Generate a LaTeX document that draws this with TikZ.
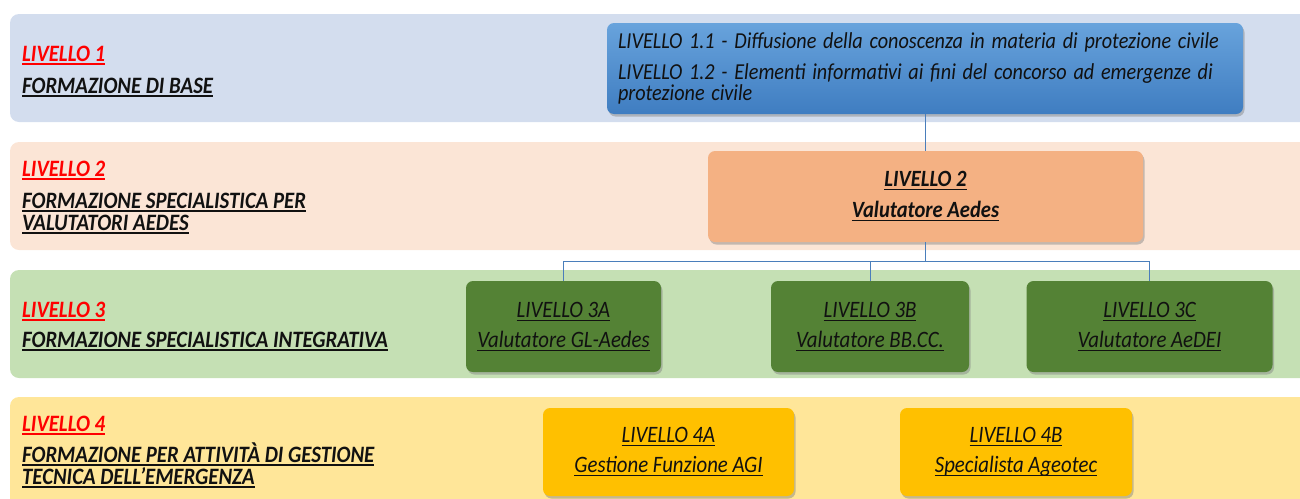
\documentclass[tikz,border=0pt]{standalone}
\usepackage{fontspec}
\usepackage{graphicx}
\setmainfont{Carlito}
\usetikzlibrary{shadows}
\definecolor{bandA}{HTML}{D3DDEE}
\definecolor{bandB}{HTML}{FBE5D6}
\definecolor{bandC}{HTML}{C5E0B4}
\definecolor{bandD}{HTML}{FFE699}
\definecolor{blueT}{HTML}{68A3DC}
\definecolor{blueB}{HTML}{3F7DC1}
\definecolor{orangeF}{HTML}{F4B183}
\definecolor{greenF}{HTML}{548235}
\definecolor{yellowF}{HTML}{FFC000}
\definecolor{connC}{HTML}{4A7EBB}
\definecolor{redT}{HTML}{FF0000}
\definecolor{darkT}{HTML}{111111}
\newcommand\vs[1]{\scalebox{1}[1.13]{#1}}
\newcommand\uln[1]{\setbox0=\hbox{\vs{#1}}\leavevmode\rlap{\rule[-3.6pt]{\wd0}{1.4pt}}\box0}
\newcommand\tightlines{\lineskiplimit=-30pt\lineskip=0pt}
\tikzset{
  band/.style={rounded corners=9pt},
  lvlred/.style={anchor=base west, inner sep=0pt, text=redT, font=\fontsize{20.8}{21}\selectfont\bfseries\itshape},
  lvldesc/.style={anchor=base west, inner sep=0pt, text=darkT, font=\fontsize{20.8}{21}\selectfont\bfseries\itshape},
  boxbase/.style={rounded corners=7pt, inner sep=0pt, align=center,
     drop shadow={opacity=0.45, shadow xshift=1.5pt, shadow yshift=-2.5pt}},
  bluebox/.style={boxbase, top color=blueT, bottom color=blueB, text=darkT, align=left,
     font=\fontsize{20.2}{21}\selectfont\itshape\tightlines},
  orbox/.style={boxbase, fill=orangeF, text=darkT, font=\fontsize{20.6}{31}\selectfont\bfseries\itshape\tightlines},
  grbox/.style={boxbase, fill=greenF, text=darkT, font=\fontsize{20.8}{30}\selectfont\itshape\tightlines},
  ylbox/.style={boxbase, fill=yellowF, text=darkT, font=\fontsize{20.8}{30}\selectfont\itshape\tightlines},
  conn/.style={draw=connC, line width=1pt}
}
\begin{document}
\begin{tikzpicture}[x=1pt,y=-1pt]
\useasboundingbox (0,0) rectangle (1300,498);
\begin{scope}
\clip (0,0) rectangle (1300,498);
\fill[band, bandA] (10,14) rectangle (1330,122);
\fill[band, bandB] (10,142) rectangle (1330,250);
\fill[band, bandC] (10,270) rectangle (1330,378);
\fill[band, bandD] (10,397) rectangle (1330,520);
\end{scope}

% left labels
\node[lvlred] (r1) at (22,61) {\uln{LIVELLO 1}};
\node[lvldesc] (d1) at (22,93) {\uln{FORMAZIONE DI BASE}};
\node[lvlred] (r2) at (22,176) {\uln{LIVELLO 2}};
\node[lvldesc] (d2a) at (22,208) {\uln{FORMAZIONE SPECIALISTICA PER}};
\node[lvldesc] (d2b) at (22,230) {\uln{VALUTATORI AEDES}};
\node[lvlred] (r3) at (22,317) {\uln{LIVELLO 3}};
\node[lvldesc] (d3) at (22,347) {\uln{FORMAZIONE SPECIALISTICA INTEGRATIVA}};
\node[lvlred] (r4) at (22,431) {\uln{LIVELLO 4}};
\node[lvldesc] (d4a) at (22,462) {\uln{FORMAZIONE PER ATTIVITÀ DI GESTIONE}};
\node[lvldesc] (d4b) at (22,484) {\uln{TECNICA DELL’EMERGENZA}};

% boxes
\node[bluebox, minimum width=636pt, minimum height=91pt, text width=614pt] (b1) at (925,68.5)
  {\vs{LIVELLO 1.1 - Diffusione della conoscenza in materia di protezione civile}\\[10pt]
   \vs{LIVELLO 1.2 - Elementi informativi ai fini del concorso ad emergenze di}\\\vs{protezione civile}};
\node[orbox, minimum width=435pt, minimum height=91pt] (o2) at (925.5,196.5)
  {\uln{LIVELLO 2}\\\uln{Valutatore Aedes}};
\node[grbox, minimum width=195pt, minimum height=91pt] (g3a) at (563.5,326.5)
  {\uln{LIVELLO 3A}\\\uln{Valutatore GL-Aedes}};
\node[grbox, minimum width=198pt, minimum height=91pt] (g3b) at (870,326.5)
  {\uln{LIVELLO 3B}\\\uln{Valutatore BB.CC.}};
\node[grbox, minimum width=246pt, minimum height=91pt] (g3c) at (1149.5,326.5)
  {\uln{LIVELLO 3C}\\\uln{Valutatore AeDEI}};
\node[ylbox, minimum width=251pt, minimum height=88pt] (y4a) at (668.5,452)
  {\uln{LIVELLO 4A}\\\uln{Gestione Funzione AGI}};
\node[ylbox, minimum width=232pt, minimum height=88pt] (y4b) at (1016,452)
  {\uln{LIVELLO 4B}\\\uln{Specialista Ageotec}};

% connectors
\coordinate (hub) at (925.5,261);
\draw[conn] (b1.south -| o2.north) -- (o2.north);
\draw[conn] (o2.south) -- (hub);
\draw[conn] (g3a.north) |- (hub);
\draw[conn] (hub) -| (g3b.north);
\draw[conn] (hub) -| (g3c.north);
\end{tikzpicture}
\end{document}
